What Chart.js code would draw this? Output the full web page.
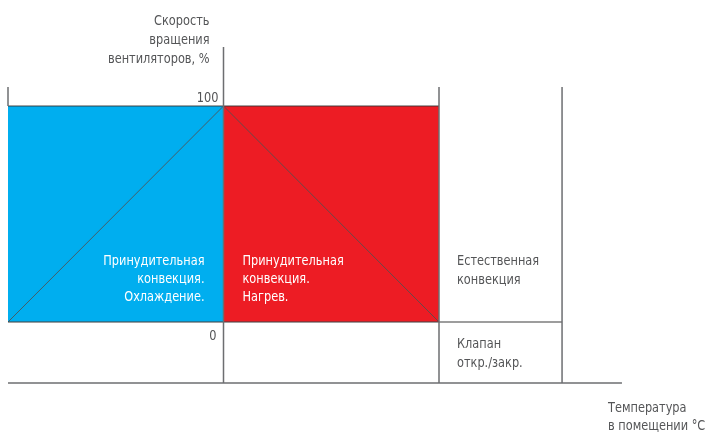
<!DOCTYPE html>
<html>
<head>
<meta charset="utf-8">
<script src="https://cdn.jsdelivr.net/npm/chart.js@4.4.1/dist/chart.umd.min.js"></script>
<style>
html,body{margin:0;padding:0;background:#fff;}
#wrap{width:707px;height:435px;position:relative;}
</style>
</head>
<body>
<div id="wrap"><canvas id="c" width="707" height="435"></canvas></div>
<script>
// ---- data (chart units: x = temperature zone boundaries, y = fan speed %) ----
const zoneNames = ['Принудительная конвекция. Охлаждение.', 'Принудительная конвекция. Нагрев.'];
const zoneStart = [0, 1];
const zoneEnd = [1, 2];
const zoneSpeed = [100, 100];
const zoneColors = ['#00AEEF', '#ED1C24'];
const rampX = [0, 1, 2];
const rampY = [0, 100, 0];
const yTicks = [0, 100];
const naturalEnd = 2.571;   // end of natural convection zone
const axisEnd = 2.849;      // end of temperature axis
const frameTop = 108.8;     // top of zone frame
const axisTop = 127.3;      // top of speed axis
const axisBottom = -28.24;  // temperature axis level
const yTitle = ['Скорость', 'вращения', 'вентиляторов, %'];
const xTitle = ['Температура', 'в помещении °C'];
const naturalLabel = ['Естественная', 'конвекция'];
const valveLabel = ['Клапан', 'откр./закр.'];
const zoneLabels = [['Принудительная', 'конвекция.', 'Охлаждение.'], ['Принудительная', 'конвекция.', 'Нагрев.']];

const FONT = '"DejaVu Sans Condensed", "Liberation Sans Narrow", sans-serif';
const GRAY = '#6d6e71';
const SX = 0.87;

const datasets = [];
zoneStart.forEach((s, i) => {
  datasets.push({
    label: zoneNames[i],
    data: [{x: s, y: zoneSpeed[i]}, {x: zoneEnd[i], y: zoneSpeed[i]}],
    backgroundColor: zoneColors[i],
    borderColor: 'rgba(50,50,50,0.45)',
    borderWidth: 2,
    fill: 'origin',
    pointRadius: 0,
    order: 5
  });
});
datasets.push({
  label: 'ramp',
  data: rampX.map((x, i) => ({x, y: rampY[i]})),
  borderColor: 'rgba(80,80,80,0.85)',
  borderWidth: 1,
  fill: false,
  pointRadius: 0,
  order: 4
});
const segments = [
  [[0, 100], [0, frameTop]],
  [[1, axisBottom], [1, axisTop]],
  [[2, axisBottom], [2, frameTop]],
  [[naturalEnd, axisBottom], [naturalEnd, frameTop]],
  [[0, 0], [naturalEnd, 0]],
  [[0, axisBottom], [axisEnd, axisBottom]]
];
segments.forEach((s, i) => {
  datasets.push({
    label: 'frame' + i,
    data: s.map(p => ({x: p[0], y: p[1]})),
    borderColor: i === 4 ? 'rgba(70,70,70,0.7)' : GRAY,
    borderWidth: 1.5,
    fill: false,
    pointRadius: 0,
    order: 1
  });
});

function txt(ctx, t, x, y, align) {
  ctx.save();
  ctx.translate(x, y);
  ctx.scale(SX, 1);
  ctx.textAlign = align;
  ctx.fillText(t, 0, 0);
  ctx.restore();
}

const textPlugin = {
  id: 'texts',
  afterDatasetsDraw(chart) {
    const {ctx, scales: {x, y}} = chart;
    ctx.save();
    ctx.font = '14.5px ' + FONT;
    ctx.textBaseline = 'alphabetic';
    const px = v => x.getPixelForValue(v);
    const py = v => y.getPixelForValue(v);
    // axis title
    ctx.fillStyle = '#545557';
    yTitle.forEach((t, i) => txt(ctx, t, px(1) - 14, 25 + i * 19, 'right'));
    // ticks
    txt(ctx, String(yTicks[1]), px(1) - 5, py(yTicks[1]) - 4, 'right');
    txt(ctx, String(yTicks[0]), px(1) - 7, py(yTicks[0]) + 18, 'right');
    // zone labels
    ctx.fillStyle = '#ffffff';
    zoneLabels[0].forEach((t, i) => txt(ctx, t, px(1) - 19, py(0) - 57 + i * 18, 'right'));
    zoneLabels[1].forEach((t, i) => txt(ctx, t, px(1) + 19, py(0) - 57 + i * 18, 'left'));
    ctx.fillStyle = '#545557';
    naturalLabel.forEach((t, i) => txt(ctx, t, px(2) + 18, py(0) - 57 + i * 19, 'left'));
    valveLabel.forEach((t, i) => txt(ctx, t, px(2) + 18, py(0) + 26 + i * 19, 'left'));
    xTitle.forEach((t, i) => txt(ctx, t, 608, py(axisBottom) + 29 + i * 18, 'left'));
    ctx.restore();
  }
};

new Chart(document.getElementById('c'), {
  type: 'line',
  data: {datasets},
  options: {
    responsive: false,
    animation: false,
    layout: {padding: 0},
    plugins: {legend: {display: false}, tooltip: {enabled: false}, title: {display: false}},
    elements: {line: {tension: 0}},
    scales: {
      x: {type: 'linear', display: false, min: -8 / 215.5, max: 699 / 215.5},
      y: {type: 'linear', display: false, min: -113 / 2.16, max: 322 / 2.16}
    }
  },
  plugins: [textPlugin]
});
</script>
</body>
</html>
